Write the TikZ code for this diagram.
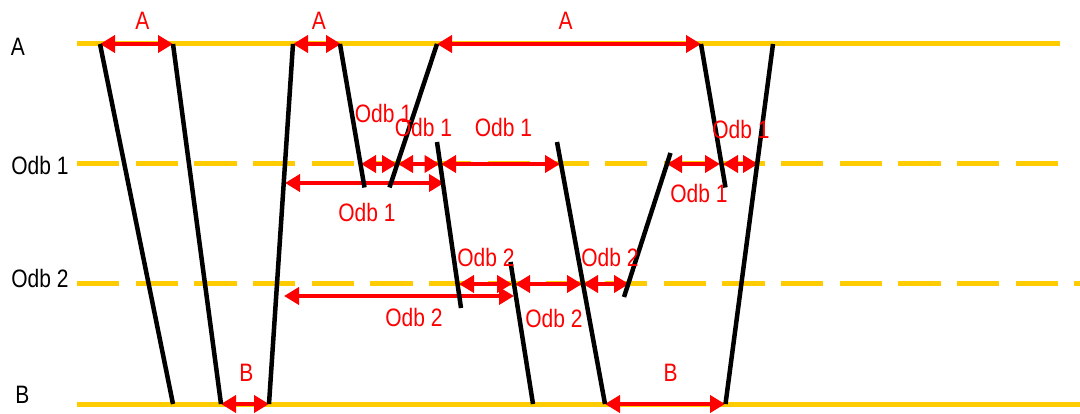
\documentclass[tikz,border=0pt]{standalone}
\usepackage{fontspec}
\usepackage{graphicx}
\setmainfont{Liberation Sans}
\usetikzlibrary{arrows.meta}
\definecolor{gold}{HTML}{FFCC00}
\definecolor{mark}{HTML}{FF0000}
\newcommand{\tall}[1]{\scalebox{1}[1.2]{#1}}
\tikzset{
  track/.style={draw=gold, line width=5pt},
  dashedtrack/.style={track, dash pattern=on 42.2pt off 16.47pt},
  train/.style={draw=black, line width=4.5pt},
  gapline/.style={draw=mark, line width=4pt,
    {Triangle[length=15pt,width=17pt]}-{Triangle[length=15pt,width=17pt]}},
  lbl/.style={text=mark, inner sep=0pt, font=\fontsize{21}{25}\selectfont},
  side/.style={text=black, inner sep=0pt, font=\fontsize{21}{25}\selectfont}
}
\begin{document}
\begin{tikzpicture}[x=1pt, y=-1pt]
\useasboundingbox (0,0) rectangle (1080,414);

% tracks
\coordinate (aS) at (77,44);   \coordinate (aE) at (1060,44);
\coordinate (oS) at (77,164);  \coordinate (oE) at (1059,164);
\coordinate (tS) at (77,284);  \coordinate (tE) at (1080,284);
\coordinate (bS) at (77,404);  \coordinate (bE) at (1080,404);
\draw[track] (aS) -- (aE);
\draw[dashedtrack] (oS) -- (oE);
\draw[dashedtrack] (tS) -- (tE);
\draw[track] (bS) -- (bE);

% track names
\node[side] (nA) at (18,47) {\tall{A}};
\node[side] (nO1) at (40,165) {\tall{Odb 1}};
\node[side] (nO2) at (40,278) {\tall{Odb 2}};
\node[side] (nB) at (22.5,395) {\tall{B}};

% train paths: end points
\coordinate (p1a) at (100,44);  \coordinate (p1b) at (173,404);
\coordinate (p2a) at (173,44);  \coordinate (p2b) at (221,404);
\coordinate (p3a) at (293,44);  \coordinate (p3b) at (269,404);
\coordinate (p4a) at (340,44);  \coordinate (p4b) at (364.5,187.5);
\coordinate (p5a) at (437,44);  \coordinate (p5b) at (389.5,187.5);
\coordinate (p6a) at (437,142); \coordinate (p6b) at (461,308);
\coordinate (p7a) at (557,142); \coordinate (p7b) at (605,404);
\coordinate (p8a) at (510.5,262); \coordinate (p8b) at (533,404);
\coordinate (p9a) at (670.5,153); \coordinate (p9b) at (624,297);
\coordinate (p10a) at (701,44); \coordinate (p10b) at (725.5,187.5);
\coordinate (p11a) at (773,44); \coordinate (p11b) at (725.5,404);

% headway arrows: end points
\coordinate (h1l) at (100,44);  \coordinate (h1r) at (173,44);
\coordinate (h2l) at (293,44);  \coordinate (h2r) at (341,44);
\coordinate (h3l) at (437,44);  \coordinate (h3r) at (701,44);

\coordinate (k1l) at (361,164); \coordinate (k1r) at (397,164);
\coordinate (k2l) at (398,164); \coordinate (k2r) at (439.5,164);
\coordinate (k3l) at (441,164); \coordinate (k3r) at (560,164);
\coordinate (k4l) at (667,164); \coordinate (k4r) at (720,164);
\coordinate (k5l) at (723,164); \coordinate (k5r) at (758,164);
\coordinate (k6l) at (285,183); \coordinate (k6r) at (444,183);

\coordinate (m1l) at (284,296); \coordinate (m1r) at (514,296);
\coordinate (m2l) at (459,284); \coordinate (m2r) at (512,284);
\coordinate (m3l) at (515,284); \coordinate (m3r) at (582,284);
\coordinate (m4l) at (583,284); \coordinate (m4r) at (629,284);

\coordinate (q1l) at (221,404); \coordinate (q1r) at (269,404);
\coordinate (q2l) at (605,404); \coordinate (q2r) at (725,404);

% arrows first, train paths on top
\foreach \n in {h1,h2,h3,k1,k2,k3,k4,k5,k6,m1,m2,m3,m4,q1,q2}
  \draw[gapline] (\n l) -- (\n r);

\foreach \n in {1,...,11}
  \draw[train] (p\n a) -- (p\n b);

% headway labels
\node[lbl] (tA1) at (142.5,21) {\tall{A}};
\node[lbl] (tA2) at (319,21) {\tall{A}};
\node[lbl] (tA3) at (565.5,21) {\tall{A}};

\node[lbl] (tK1) at (383.5,113) {\tall{Odb 1}};
\node[lbl] (tK2) at (423.5,127) {\tall{Odb 1}};
\node[lbl] (tK3) at (503.5,127) {\tall{Odb 1}};
\node[lbl] (tK4) at (699,193) {\tall{Odb 1}};
\node[lbl] (tK5) at (741,129) {\tall{Odb 1}};
\node[lbl] (tK6) at (367,212) {\tall{Odb 1}};

\node[lbl] (tM1) at (414,317) {\tall{Odb 2}};
\node[lbl] (tM2) at (486,257) {\tall{Odb 2}};
\node[lbl] (tM3) at (554,318) {\tall{Odb 2}};
\node[lbl] (tM4) at (610,257) {\tall{Odb 2}};

\node[lbl] (tB1) at (246.5,373) {\tall{B}};
\node[lbl] (tB2) at (670.5,373) {\tall{B}};
\end{tikzpicture}
\end{document}
